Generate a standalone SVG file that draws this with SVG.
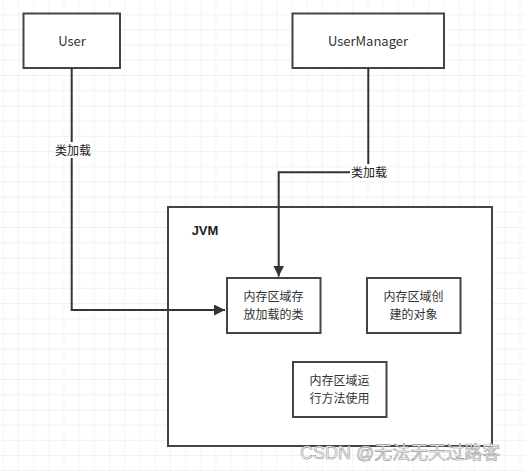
<svg xmlns="http://www.w3.org/2000/svg" width="526" height="471" viewBox="0 0 526 471">
<defs>
<pattern id="grid" x="2.7" y="-1" width="15.2" height="15.2" patternUnits="userSpaceOnUse">
<path d="M0 0H15.2M0 0V15.2" fill="none" stroke="#ededed" stroke-width="1.2"/>
</pattern>
<marker id="arr" viewBox="0 0 10 10" refX="10" refY="5" markerWidth="11" markerHeight="11" markerUnits="userSpaceOnUse" orient="auto">
<path d="M0 0L10 5L0 10Z" fill="#333"/>
</marker>
<style>
.box{fill:#fff;stroke:#444;stroke-width:2}
.t{font-family:"Noto Sans CJK SC","Liberation Sans",sans-serif;font-size:12px;fill:#333;text-anchor:middle}
.e{fill:none;stroke:#333;stroke-width:2}
.lbl{font-family:"Noto Sans CJK SC",sans-serif;font-size:12px;fill:#222;text-anchor:middle}
</style>
</defs>
<rect width="526" height="471" fill="#fff"/>
<rect width="526" height="471" fill="url(#grid)"/>
<g id="JVM">
<rect class="box" x="168" y="207" width="324" height="239"/>
<text x="205" y="235" font-family="Liberation Sans, sans-serif" font-size="13" font-weight="bold" fill="#222" text-anchor="middle">JVM</text>
</g>
<g id="User">
<rect class="box" x="23.5" y="13.5" width="96.5" height="54.5"/>
<text class="t" x="72" y="46" style="font-size:13px">User</text>
</g>
<g id="UserManager">
<rect class="box" x="292.5" y="13.5" width="151.5" height="54.5"/>
<text class="t" x="368" y="46" style="font-size:13px">UserManager</text>
</g>
<g id="box1">
<rect class="box" x="227" y="278" width="93.5" height="55"/>
<text class="t" x="273.5" y="301">内存区域存</text>
<text class="t" x="273.5" y="318.5">放加载的类</text>
</g>
<g id="box2">
<rect class="box" x="367" y="278" width="93.5" height="55"/>
<text class="t" x="413.5" y="301">内存区域创</text>
<text class="t" x="413.5" y="318.5">建的对象</text>
</g>
<g id="box3">
<rect class="box" x="293" y="362" width="93.5" height="55"/>
<text class="t" x="339.5" y="385">内存区域运</text>
<text class="t" x="339.5" y="402.5">行方法使用</text>
</g>
<g id="connectors">
<path class="e" d="M71.7 68V310H225" marker-end="url(#arr)"/>
<path class="e" d="M368.3 68V172.3H278.7V276.5" marker-end="url(#arr)"/>
<rect x="54" y="142" width="38" height="16" fill="#fff"/>
<text class="lbl" x="73" y="155">类加载</text>
<rect x="350" y="164" width="38" height="16" fill="#fff"/>
<text class="lbl" x="369" y="177">类加载</text>
</g>
<text x="300" y="459" font-family="Liberation Sans, Noto Sans CJK SC, sans-serif" font-size="18" fill="#fafafa" stroke="#9a9a9a" stroke-width="0.6">CSDN @无法无天过路客</text>
</svg>
